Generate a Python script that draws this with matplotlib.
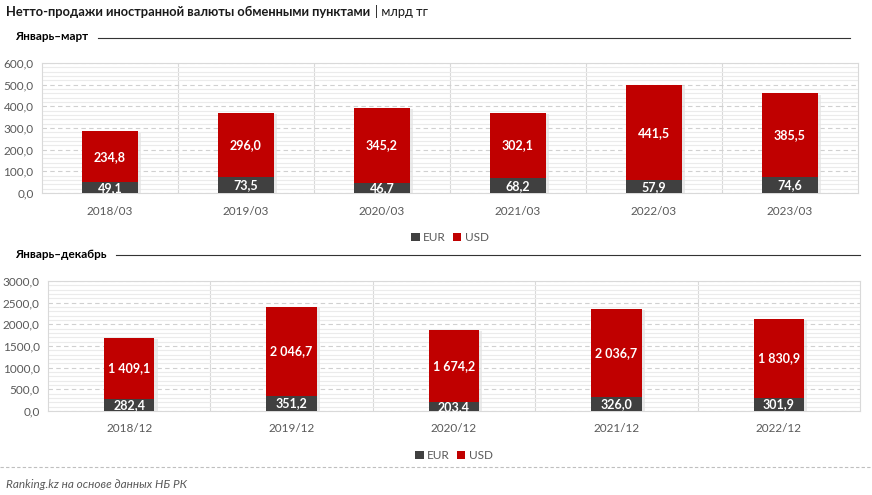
import numpy as np
import matplotlib.pyplot as plt
from matplotlib.ticker import MultipleLocator, FuncFormatter

plt.rcParams['font.family'] = ['Lato', 'DejaVu Sans']

# Data
q_labels = ['2018/03', '2019/03', '2020/03', '2021/03', '2022/03', '2023/03']
q_eur = [49.1, 73.5, 46.7, 68.2, 57.9, 74.6]
q_usd = [234.8, 296.0, 345.2, 302.1, 441.5, 385.5]

y_labels = ['2018/12', '2019/12', '2020/12', '2021/12', '2022/12']
y_eur = [282.4, 351.2, 203.4, 326.0, 301.9]
y_usd = [1409.1, 2046.7, 1674.2, 2036.7, 1830.9]

EUR_C = '#404040'
USD_C = '#c00000'
GRAY = '#595959'


def fmt_val(v):
    s = f'{v:,.1f}'.replace(',', ' ').replace('.', ',')
    return s


def draw_panel(ax, labels, eur, usd, ymax, major, minor, width):
    x = np.arange(len(labels))
    # soft shadow to the right of the bars
    ax.bar(x + 0.02, np.array(eur) + np.array(usd), width, bottom=-ymax * 0.01,
           color='#e3e3e3', alpha=0.7, zorder=2)
    ax.bar(x, eur, width, color=EUR_C, zorder=3, label='EUR')
    ax.bar(x, usd, width, bottom=eur, color=USD_C, zorder=3, label='USD')
    for xi, e, u in zip(x, eur, usd):
        ax.text(xi, e / 2, fmt_val(e), ha='center', va='center', color='white',
                fontsize=9, fontweight='bold', zorder=4)
        ax.text(xi, e + u / 2, fmt_val(u), ha='center', va='center', color='white',
                fontsize=9, fontweight='bold', zorder=4)
    ax.set_xlim(-0.5, len(labels) - 0.5)
    ax.set_ylim(0, ymax)
    ax.yaxis.set_major_locator(MultipleLocator(major))
    ax.yaxis.set_minor_locator(MultipleLocator(minor))
    ax.yaxis.set_major_formatter(FuncFormatter(lambda v, p: f'{v:.1f}'.replace('.', ',')))
    ax.grid(axis='y', which='minor', color='#ebebeb', lw=0.8, zorder=0)
    ax.grid(axis='y', which='major', color='#d0d0d0', lw=0.8, ls=(0, (4, 3)), zorder=1)
    for b in np.arange(0.5, len(labels) - 0.5, 1):
        ax.axvline(b, color='#d9d9d9', lw=0.8, zorder=1)
    ax.set_xticks(x)
    ax.set_xticklabels(labels)
    ax.tick_params(axis='both', which='both', length=0, labelsize=8.5, colors=GRAY, pad=6)
    ax.tick_params(axis='x', pad=9)
    for s in ax.spines.values():
        s.set_color('#d9d9d9')
        s.set_linewidth(0.8)
    leg = ax.legend(loc='upper center', bbox_to_anchor=(0.5, -0.22), ncol=2, frameon=False,
                    fontsize=8.5, handlelength=0.7, handleheight=0.7, handletextpad=0.3,
                    columnspacing=0.6)
    for t in leg.get_texts():
        t.set_color(GRAY)


fig = plt.figure(figsize=(8.72, 4.95), dpi=100)
W, H = 872, 495

ax1 = fig.add_axes([42 / W, 1 - 193 / H, 816 / W, 130 / H])
draw_panel(ax1, q_labels, q_eur, q_usd, 600, 100, 20, 0.41)

ax2 = fig.add_axes([48 / W, 1 - 411 / H, 812 / W, 130 / H])
draw_panel(ax2, y_labels, y_eur, y_usd, 3000, 500, 100, 0.31)

title = fig.text(6 / W, 1 - 12 / H, 'Нетто-продажи иностранной валюты обменными пунктами',
                 fontsize=9.3, fontweight='bold', va='center', color='#1a1a1a')
renderer = fig.canvas.get_renderer()
bb = title.get_window_extent(renderer)
fig.text((bb.x1 + 5) / W, 1 - 12 / H, '| млрд тг', fontsize=9.3, va='center', color='#1a1a1a')

fig.text(15 / W, 1 - 37 / H, 'Январь–март', fontsize=8.5, fontweight='bold', va='center')
fig.add_artist(plt.Line2D([98 / W, 850 / W], [1 - 38 / H, 1 - 38 / H], color='#333333', lw=0.8))
fig.text(15 / W, 1 - 254 / H, 'Январь–декабрь', fontsize=8.5, fontweight='bold', va='center')
fig.add_artist(plt.Line2D([116 / W, 860 / W], [1 - 255 / H, 1 - 255 / H], color='#333333', lw=0.8))

fig.add_artist(plt.Line2D([0, 1], [1 - 467 / H, 1 - 467 / H], color='#bfbfbf', lw=0.8, ls=(0, (3, 2))))
fig.text(6 / W, 1 - 484 / H, 'Ranking.kz на основе данных НБ РК', fontsize=8.5,
         style='italic', color=GRAY, va='center')

fig.savefig('out.png', dpi=100, facecolor='white')
